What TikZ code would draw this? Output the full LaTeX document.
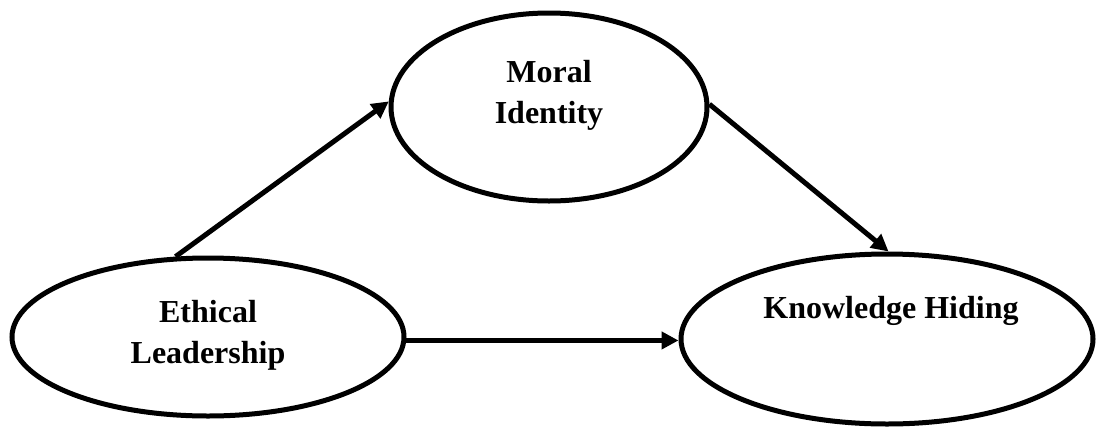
\documentclass[tikz,border=0pt]{standalone}
\usepackage{fontspec}
\setmainfont{Liberation Serif}
\usetikzlibrary{arrows.meta,shapes.geometric}
\tikzset{
  oval/.style={draw=black, line width=5pt, ellipse, inner sep=0pt},
  lbl/.style={font=\fontsize{32}{41}\selectfont\bfseries, align=center, inner sep=0pt},
  conn/.style={line width=5pt, -{Triangle[length=17pt,width=17pt]}}
}
\begin{document}
\begin{tikzpicture}[x=1pt,y=-1pt]
\useasboundingbox (0,0) rectangle (1097,426);
\node[oval, minimum width=316pt, minimum height=188pt] (mi) at (549,107) {};
\node[oval, minimum width=392pt, minimum height=158pt] (el) at (208,337) {};
\node[oval, minimum width=412pt, minimum height=170pt] (kh) at (887,339) {};
\node[lbl] (mit) at (549,95) {Moral\\Identity};
\node[lbl] (elt) at (208,335) {Ethical\\Leadership};
\node[lbl, anchor=base] (kht) at (891,318) {Knowledge Hiding};
\draw[conn] (el.112.7) -- (mi.178.2);
\draw[conn] (mi.1.8) -- (kh.89.3);
\draw[conn] (el.-1.5) -- (el.-1.5 -| kh.west);
\end{tikzpicture}
\end{document}
